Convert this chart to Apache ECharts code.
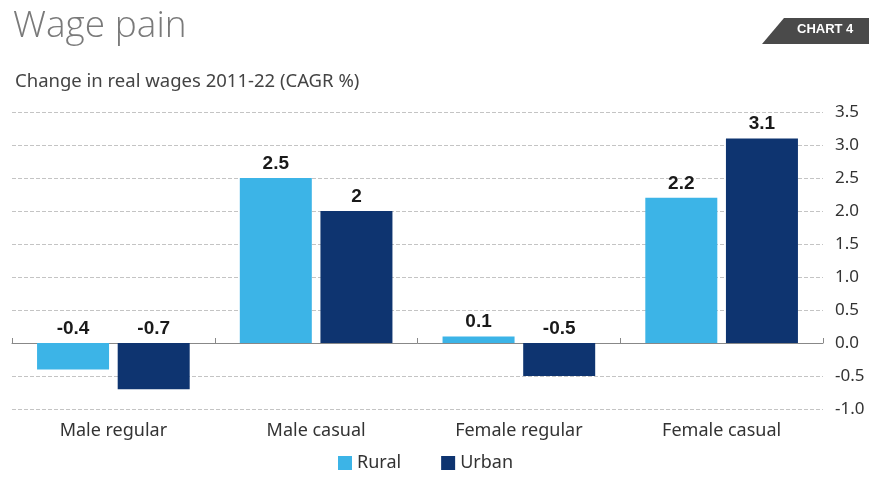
<!DOCTYPE html>
<html><head><meta charset="utf-8">
<script src="https://cdn.jsdelivr.net/npm/echarts@6/dist/echarts.min.js"></script>
<style>html,body{margin:0;padding:0;background:#fff}#c{width:869px;height:477px}</style>
</head><body><div id="c"></div>
<script>
const categories = ['Male regular', 'Male casual', 'Female regular', 'Female casual'];
const rural = [-0.4, 2.5, 0.1, 2.2];
const urban = [-0.7, 2.0, -0.5, 3.1];
const yTicks = { min: -1, max: 3.5, interval: 0.5 };

const chart = echarts.init(document.getElementById('c'));
const labelStyle = { show: true, position: 'top', fontFamily: 'Liberation Sans', fontWeight: 'bold', fontSize: 19, color: '#1a1a1a', distance: 5 };
chart.setOption({
  animation: false,
  title: [
    { text: 'Wage pain', left: 8, top: 3, textStyle: { fontFamily: 'Open Sans', fontWeight: 300, fontSize: 37, color: '#7a7a7a' } },
    { text: 'Change in real wages 2011-22 (CAGR %)', left: 10, top: 67, textStyle: { fontFamily: 'Noto Sans', fontWeight: 'normal', fontSize: 18.5, color: '#444' } }
  ],
  graphic: [
    { type: 'polygon', shape: { points: [[784, 18], [869, 18], [869, 44], [762, 44]] }, style: { fill: '#4a4a4a' } },
    { type: 'text', left: 797, top: 23, style: { text: 'CHART 4', fill: '#fff', font: 'bold 13px "Liberation Sans"' } }
  ],
  legend: {
    bottom: 0, left: 333, itemWidth: 14, itemHeight: 14, itemGap: 40,
    icon: 'rect',
    textStyle: { fontFamily: 'Noto Sans', fontSize: 18, color: '#333' },
    data: ['Rural', 'Urban']
  },
  grid: { left: 12, right: 46, top: 112, height: 297, containLabel: false },
  xAxis: [
    { type: 'category', data: categories, position: 'bottom',
      axisLine: { show: false, onZero: false }, axisTick: { show: false },
      axisLabel: { fontFamily: 'Noto Sans', fontSize: 18, color: '#333', margin: 13 } },
    { type: 'category', data: categories, position: 'top',
      axisLine: { show: true, onZero: true, lineStyle: { color: '#888', width: 1 } },
      axisTick: { show: true, inside: false, length: 5, lineStyle: { color: '#888' } },
      axisLabel: { show: false } }
  ],
  yAxis: {
    type: 'value', position: 'right', min: yTicks.min, max: yTicks.max, interval: yTicks.interval,
    axisLine: { show: false }, axisTick: { show: false },
    axisLabel: { fontFamily: 'Noto Sans', fontSize: 17, color: '#333', margin: 12, formatter: v => v.toFixed(1) },
    splitLine: { show: true, lineStyle: { type: 'dashed', color: '#c4c4c4', width: 1 } }
  },
  series: [
    { name: 'Rural', type: 'bar', xAxisIndex: 0, data: rural, barWidth: 72, barGap: '12%',
      itemStyle: { color: '#3cb4e7' }, label: labelStyle },
    { name: 'Urban', type: 'bar', xAxisIndex: 0, data: urban, barWidth: 72, barGap: '12%',
      itemStyle: { color: '#0e3470' }, label: labelStyle }
  ]
});
</script></body></html>
